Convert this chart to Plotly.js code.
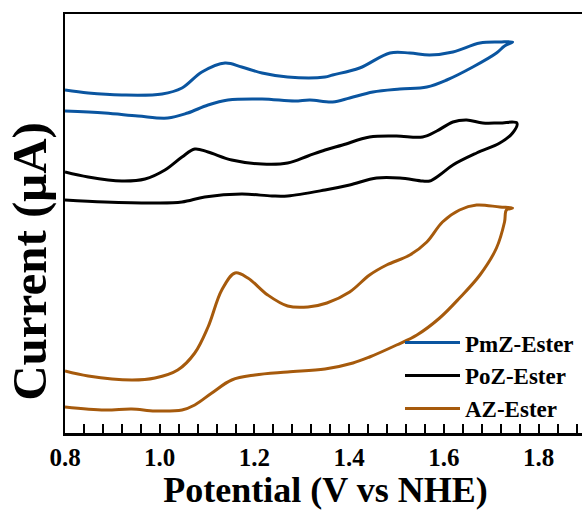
<!DOCTYPE html>
<html>
<head>
<meta charset="utf-8">
<script src="https://cdn.plot.ly/plotly-3.0.1.min.js"></script>
<style>
html, body { margin: 0; padding: 0; overflow: hidden; background: #fff; }
#chart { width: 590px; height: 512px; }
</style>
</head>
<body>
<div id="chart"></div>
<script>
// Potential (V vs NHE) and current (arbitrary units, offset curves)
const pmzPotential = [0.800,0.849,0.920,1.005,1.047,1.089,1.138,1.173,1.216,1.270,1.349,1.365,1.422,1.486,1.528,1.570,1.619,1.676,1.718,1.745,
  1.728,1.711,1.661,1.606,1.564,1.507,1.450,1.401,1.365,1.317,1.285,1.216,1.144,1.102,1.059,1.017,0.954,0.884,0.800];
const pmzCurrent = [34.3,34.0,33.8,33.9,34.5,36.1,37.0,36.6,36.0,35.6,35.6,35.8,36.5,38.0,38.0,37.8,38.1,39.0,39.1,39.1,
  38.7,38.0,36.6,35.3,34.6,34.4,34.1,33.5,33.1,33.3,33.2,33.4,33.3,32.8,32.0,31.5,31.7,32.0,32.2];

const pozPotential = [0.800,0.849,0.920,0.969,1.011,1.047,1.074,1.102,1.152,1.216,1.270,1.313,1.349,1.386,1.443,1.500,1.555,1.585,1.619,1.648,1.682,1.718,1.754,
  1.745,1.718,1.669,1.619,1.591,1.570,1.555,1.507,1.458,1.401,1.349,1.270,1.237,1.173,1.095,1.047,0.990,0.884,0.800];
const pozCurrent = [26.1,25.6,25.2,25.4,26.3,27.6,28.4,28.1,27.3,26.9,27.0,27.7,28.3,28.8,29.6,29.7,29.6,30.2,31.1,31.3,31.0,31.0,31.0,
  30.0,29.0,28.0,26.8,25.8,25.2,25.2,25.5,25.5,24.8,24.3,23.7,23.7,23.9,23.6,23.1,23.0,23.1,23.3];

const azPotential = [0.800,0.849,0.941,0.990,1.038,1.074,1.102,1.131,1.159,1.186,1.228,1.270,1.313,1.353,1.401,1.443,1.479,1.528,1.564,1.597,1.633,1.669,1.718,1.745,
  1.732,1.728,1.711,1.676,1.633,1.591,1.543,1.500,1.443,1.408,1.349,1.270,1.201,1.152,1.110,1.074,1.047,0.990,0.941,0.884,0.800];
const azCurrent = [6.2,5.7,5.3,5.5,6.3,8.0,10.6,14.3,16.0,15.5,13.8,12.7,12.6,13.0,14.1,15.8,16.8,17.8,19.1,21.1,22.3,22.8,22.6,22.5,
  22.3,21.1,18.5,15.8,13.5,11.5,9.8,8.8,7.6,7.0,6.4,6.1,5.8,5.3,4.0,2.8,2.3,2.2,2.4,2.3,2.6];

const seriesNames = ["PmZ-Ester", "PoZ-Ester", "AZ-Ester"];
const xTickVals = [0.8, 1.0, 1.2, 1.4, 1.6, 1.8];
const xTickText = ["0.8", "1.0", "1.2", "1.4", "1.6", "1.8"];
const xTitle = "Potential (V vs NHE)";
const yTitle = "Current (μA)";

const serif = "'Liberation Serif', 'Times New Roman', serif";
const colors = ["#0a55a0", "#000000", "#a65a0c"];
const xs = [pmzPotential, pozPotential, azPotential];
const ys = [pmzCurrent, pozCurrent, azCurrent];

const traces = seriesNames.map((n, i) => ({
  x: xs[i], y: ys[i], name: n, type: "scatter", mode: "lines",
  line: { color: colors[i], width: 3, shape: "spline", smoothing: 1 }
}));

const layout = {
  width: 590, height: 512,
  margin: { l: 65, r: 4, t: 14, b: 79 },
  paper_bgcolor: "#fff", plot_bgcolor: "#fff",
  showlegend: true,
  legend: {
    x: 0.643, y: 0.267, xanchor: "left", yanchor: "top",
    bgcolor: "rgba(0,0,0,0)", borderwidth: 0,
    font: { family: serif, size: 23, color: "#000", weight: "bold" },
    itemwidth: 55
  },
  xaxis: {
    range: [0.8, 1.9], tickmode: "array", tickvals: xTickVals, ticktext: xTickText,
    ticks: "inside", ticklen: 9, tickwidth: 2, tickcolor: "#000",
    minor: { dtick: 0.04, tick0: 0.8, ticks: "inside", ticklen: 9, tickwidth: 2, tickcolor: "#000" },
    showline: true, linewidth: 2.5, linecolor: "#000", mirror: true,
    showgrid: false, zeroline: false, ticklabelstandoff: 0,
    tickfont: { family: serif, size: 25, color: "#000", weight: "bold" },
    title: { text: xTitle, standoff: 4, font: { family: serif, size: 36, color: "#000", weight: "bold" } }
  },
  yaxis: {
    range: [0, 41.9], showticklabels: false, ticks: "",
    showline: true, linewidth: 2.5, linecolor: "#000", mirror: true,
    showgrid: false, zeroline: false
  },
  annotations: [{
    text: yTitle, textangle: -90, xref: "paper", yref: "paper",
    x: -0.068, y: 0.41, xanchor: "center", yanchor: "middle", showarrow: false,
    font: { family: serif, size: 49, color: "#000", weight: "bold" }
  }]
};

Plotly.newPlot("chart", traces, layout, { displayModeBar: false, staticPlot: true });
</script>
</body>
</html>
